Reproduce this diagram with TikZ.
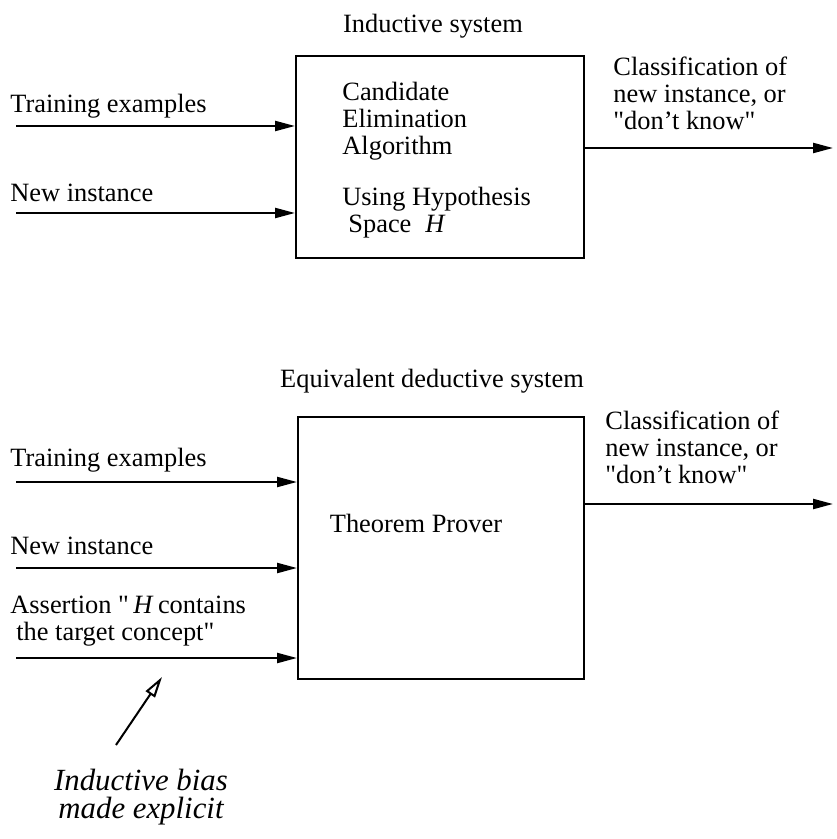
\documentclass[tikz,border=0pt]{standalone}
\usepackage{fontspec}
\setmainfont{Liberation Serif}
\usetikzlibrary{arrows.meta}
\tikzset{
  sysbox/.style={draw,line width=1.1pt,anchor=north west,inner sep=0pt},
  feed/.style={line width=1.1pt,-{Triangle[length=10pt,width=5pt]}},
  hint/.style={line width=1pt,-{Triangle[open,length=10.5pt,width=5.5pt]}},
  lbl/.style={anchor=base west,inner sep=0pt,align=left},
}
\begin{document}
\begin{tikzpicture}[x=0.5pt,y=-0.5pt,
    every node/.append style={font=\fontsize{13.2}{13.5}\selectfont}]
  \useasboundingbox (0,0) rectangle (836,839);

  % inductive system
  \node[sysbox,minimum width=144pt,minimum height=101pt] (ind) at (295,55) {};
  \node[anchor=base,inner sep=0pt] (indtitle) at (433,33) {Inductive system};
  \node[lbl] (indalg) at (342,155) {Candidate\\Elimination\\Algorithm};
  \node[lbl] (indspace) at (342,233) {Using Hypothesis\\\hspace*{3pt}Space\hspace{7pt}\textit{H}};

  \coordinate (indtrain) at (16,126);
  \coordinate (indnew) at (16,213);
  \coordinate (indout) at (833,148);
  \node[lbl] at (10,113) {Training examples};
  \node[lbl] at (10,202) {New instance};
  \draw[feed] (indtrain) -- (indtrain -| ind.west);
  \draw[feed] (indnew) -- (indnew -| ind.west);
  \draw[feed] (indout -| ind.east) -- (indout);
  \node[lbl] at (613,130) {Classification of\\new instance, or\\\textquotedbl don’t know\textquotedbl};

  % equivalent deductive system
  \node[sysbox,minimum width=143pt,minimum height=131pt] (ded) at (297,416) {};
  \node[anchor=base,inner sep=0pt] (dedtitle) at (432,387) {Equivalent deductive system};
  \node[anchor=base,inner sep=0pt] (prover) at (416,532) {Theorem Prover};

  \coordinate (dedtrain) at (16,482);
  \coordinate (dednew) at (16,568);
  \coordinate (dedbias) at (16,658);
  \coordinate (dedout) at (833,504);
  \node[lbl] at (10,466) {Training examples};
  \node[lbl] at (10,554) {New instance};
  \node[lbl] at (10,640) {Assertion \textquotedbl\,\textit{H}\,contains\\\hspace*{3pt}the target concept\textquotedbl};
  \draw[feed] (dedtrain) -- (dedtrain -| ded.west);
  \draw[feed] (dednew) -- (dednew -| ded.west);
  \draw[feed] (dedbias) -- (dedbias -| ded.west);
  \draw[feed] (dedout -| ded.east) -- (dedout);
  \node[lbl] at (605,483) {Classification of\\new instance, or\\\textquotedbl don’t know\textquotedbl};

  % bias note
  \node[anchor=base,inner sep=0pt,align=center,font=\fontsize{15.4}{14}\selectfont\itshape]
    (biasnote) at (141,818) {Inductive bias\\made explicit};
  \coordinate (biastail) at (116,745);
  \coordinate (biastip) at (162,677);
  \draw[hint] (biastail) -- (biastip);
\end{tikzpicture}
\end{document}
